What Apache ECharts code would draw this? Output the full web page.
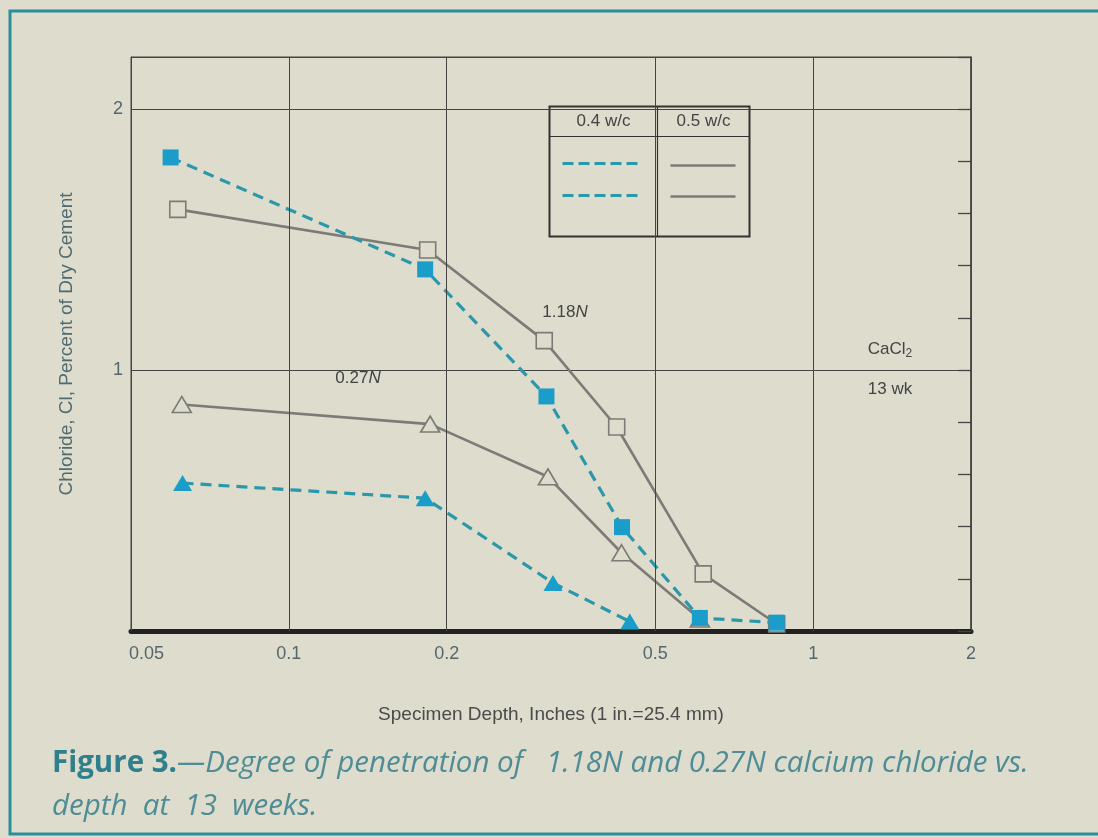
<!DOCTYPE html>
<html>
<head>
<meta charset="utf-8">
<script src="https://cdn.jsdelivr.net/npm/echarts@6/dist/echarts.min.js"></script>
<style>
  html, body { margin: 0; padding: 0; background: #dddccd; }
  #chart { width: 1098px; height: 838px; }
</style>
</head>
<body>
<div id="chart"></div>
<script>
// Depth ticks on the logarithmic x axis
const xTickValues = [0.05, 0.1, 0.2, 0.5, 1, 2];
const xTickLabels = ['0.05', '0.1', '0.2', '0.5', '1', '2'];

// 1.18N solution, 0.4 w/c (filled squares, dashed)
const sq04Depth = [0.0595, 0.182, 0.310, 0.432, 0.608, 0.852];
const sq04Cl    = [1.815, 1.386, 0.899, 0.398, 0.050, 0.032];
// 1.18N solution, 0.5 w/c (open squares, solid)
const sq05Depth = [0.0614, 0.184, 0.307, 0.422, 0.617, 0.852];
const sq05Cl    = [1.616, 1.460, 1.113, 0.782, 0.219, 0.027];
// 0.27N solution, 0.5 w/c (open triangles, solid)
const tri05Depth = [0.0625, 0.186, 0.312, 0.431, 0.608];
const tri05Cl    = [0.868, 0.793, 0.591, 0.300, 0.046];
// 0.27N solution, 0.4 w/c (filled triangles, dashed)
const tri04Depth = [0.0627, 0.182, 0.319, 0.447];
const tri04Cl    = [0.567, 0.509, 0.184, 0.036];

const BG = '#dddccd';
const TEAL_LINE = '#2b98aa';
const TEAL_FILL = '#1a9dc8';
const GRAY = '#7b7b77';
const INK = '#444';
const LABEL = '#55676d';
const Y_MAX = 2.2;

const pairs = (xs, ys) => xs.map((x, i) => [x, ys[i]]);

const chart = echarts.init(document.getElementById('chart'), null, { renderer: 'canvas' });

const gridLines = xTickValues.map((v, i) => [
  {
    coord: [v, 0],
    name: xTickLabels[i],
    label: i === 0 ? { align: 'left', offset: [-2, 0] } : {}
  },
  { coord: [v, Y_MAX] }
]);

const openSym = { color: BG, borderColor: GRAY, borderWidth: 1.6 };
const filledSym = { color: TEAL_FILL, borderColor: TEAL_FILL, borderWidth: 0 };

chart.setOption({
  backgroundColor: BG,
  animation: false,
  grid: {
    left: 131, right: 127, top: 57, bottom: 207,
    show: true, borderColor: INK, borderWidth: 1, backgroundColor: 'transparent'
  },
  xAxis: {
    type: 'log', logBase: 10, min: 0.05, max: 2,
    name: 'Specimen Depth, Inches (1 in.=25.4 mm)',
    nameLocation: 'middle', nameGap: 74,
    nameTextStyle: { fontFamily: 'Liberation Sans', fontSize: 19, color: '#4b4b4b' },
    axisLine: { show: true, lineStyle: { color: '#222', width: 5 } },
    axisTick: { show: false },
    axisLabel: { show: false },
    splitLine: { show: false }
  },
  yAxis: [
    {
      type: 'value', min: 0, max: Y_MAX, interval: 1,
      name: 'Chloride, Cl, Percent of Dry Cement',
      nameLocation: 'middle', nameGap: 55, nameRotate: 90,
      nameTextStyle: { fontFamily: 'Liberation Sans', fontSize: 19, color: '#4f6a70' },
      axisLine: { show: true, lineStyle: { color: INK, width: 1 } },
      axisTick: { show: false },
      axisLabel: {
        margin: 8, fontFamily: 'Liberation Sans', fontSize: 18, color: LABEL,
        formatter: v => (v === 1 || v === 2) ? String(v) : ''
      },
      splitLine: { show: true, lineStyle: { color: INK, width: 1 } }
    },
    {
      type: 'value', min: 0, max: Y_MAX, interval: 0.2, position: 'right',
      axisLine: { show: true, lineStyle: { color: INK, width: 1.5 } },
      axisTick: { show: true, inside: true, length: 13, lineStyle: { color: INK, width: 1.3 } },
      axisLabel: { show: false },
      splitLine: { show: false }
    }
  ],
  series: [
    {
      name: '1.18N 0.5 w/c',
      type: 'line',
      data: pairs(sq05Depth, sq05Cl),
      symbol: 'rect', symbolSize: 16,
      lineStyle: { color: GRAY, width: 2.6 },
      itemStyle: openSym,
      z: 3,
      markLine: {
        silent: true, symbol: ['none', 'none'], animation: false,
        lineStyle: { color: INK, width: 1, type: 'solid' },
        label: {
          show: true, position: 'start', formatter: '{b}', distance: 14,
          fontFamily: 'Liberation Sans', fontSize: 18, color: LABEL
        },
        emphasis: { disabled: true },
        data: gridLines
      }
    },
    {
      name: '0.27N 0.5 w/c',
      type: 'line',
      data: pairs(tri05Depth, tri05Cl),
      symbol: 'triangle', symbolSize: [19, 16],
      lineStyle: { color: GRAY, width: 2.6 },
      itemStyle: openSym,
      z: 3
    },
    {
      name: '0.27N 0.4 w/c',
      type: 'line',
      data: pairs(tri04Depth, tri04Cl),
      symbol: 'triangle', symbolSize: [19, 16],
      lineStyle: { color: TEAL_LINE, width: 3.2, type: [11, 7] },
      itemStyle: filledSym,
      z: 4
    },
    {
      name: '1.18N 0.4 w/c',
      type: 'line',
      data: pairs(sq04Depth, sq04Cl),
      symbol: 'rect', symbolSize: 16,
      lineStyle: { color: TEAL_LINE, width: 3.2, type: [11, 7] },
      itemStyle: filledSym,
      z: 4
    }
  ],
  graphic: [
    // outer frame
    {
      type: 'rect', silent: true, z: 0,
      shape: { x: 10, y: 11, width: 1100, height: 823 },
      style: { fill: null, stroke: '#2b8e9b', lineWidth: 3 }
    },
    // key table
    {
      type: 'group', left: 547, top: 104, z: 10,
      children: [
        { type: 'rect', shape: { x: 0, y: 0, width: 200, height: 130 },
          style: { fill: BG, stroke: '#333', lineWidth: 2 } },
        { type: 'line', shape: { x1: 0, y1: 30, x2: 200, y2: 30 }, style: { stroke: '#333', lineWidth: 1.2 } },
        { type: 'line', shape: { x1: 108, y1: 0, x2: 108, y2: 130 }, style: { stroke: '#333', lineWidth: 1.2 } },
        { type: 'text', x: 54, y: 15, style: { text: '0.4 w/c', fontFamily: 'Liberation Sans', fontSize: 17, fill: '#444', align: 'center', verticalAlign: 'middle' } },
        { type: 'text', x: 154, y: 15, style: { text: '0.5 w/c', fontFamily: 'Liberation Sans', fontSize: 17, fill: '#444', align: 'center', verticalAlign: 'middle' } },
        { type: 'line', shape: { x1: 13, y1: 57, x2: 92, y2: 57 }, style: { stroke: TEAL_LINE, lineWidth: 3.2, lineDash: [11, 5] } },
        { type: 'line', shape: { x1: 13, y1: 89, x2: 92, y2: 89 }, style: { stroke: TEAL_LINE, lineWidth: 3.2, lineDash: [11, 5] } },
        { type: 'line', shape: { x1: 121, y1: 59, x2: 186, y2: 59 }, style: { stroke: GRAY, lineWidth: 2.6 } },
        { type: 'line', shape: { x1: 121, y1: 90, x2: 186, y2: 90 }, style: { stroke: GRAY, lineWidth: 2.6 } }
      ]
    },
    // curve annotations
    {
      type: 'text', x: 358, y: 378, z: 10,
      style: {
        text: '{n|0.27}{i|N}', align: 'center', verticalAlign: 'middle',
        rich: {
          n: { fontFamily: 'Liberation Sans', fontSize: 17, fill: '#444' },
          i: { fontFamily: 'Liberation Sans', fontSize: 17, fontStyle: 'italic', fill: '#444' }
        }
      }
    },
    {
      type: 'text', x: 565, y: 312, z: 10,
      style: {
        text: '{n|1.18}{i|N}', align: 'center', verticalAlign: 'middle',
        rich: {
          n: { fontFamily: 'Liberation Sans', fontSize: 17, fill: '#444' },
          i: { fontFamily: 'Liberation Sans', fontSize: 17, fontStyle: 'italic', fill: '#444' }
        }
      }
    },
    {
      type: 'text', x: 890, y: 349, z: 10,
      style: {
        text: '{n|CaCl}{s|2}', align: 'center', verticalAlign: 'middle',
        rich: {
          n: { fontFamily: 'Liberation Sans', fontSize: 17, fill: '#444', verticalAlign: 'bottom' },
          s: { fontFamily: 'Liberation Sans', fontSize: 12, fill: '#444', verticalAlign: 'bottom', padding: [0, 0, -2, 0] }
        }
      }
    },
    {
      type: 'text', x: 890, y: 389, z: 10,
      style: { text: '13 wk', fontFamily: 'Liberation Sans', fontSize: 17, fill: '#444', align: 'center', verticalAlign: 'middle' }
    },
    // figure caption
    {
      type: 'text', left: 52, top: 749, z: 10,
      style: {
        text: '{b|Figure 3.}{i|—Degree of penetration of   1.18N and 0.27N calcium chloride vs.}\n{i|depth  at  13  weeks.}',
        rich: {
          b: { fontFamily: 'Open Sans', fontSize: 29.5, fontWeight: 'bold', fill: '#2f7f8c', lineHeight: 43 },
          i: { fontFamily: 'Open Sans', fontSize: 29.5, fontStyle: 'italic', fill: '#4f8c95', lineHeight: 43 }
        }
      }
    }
  ]
});
</script>
</body>
</html>
